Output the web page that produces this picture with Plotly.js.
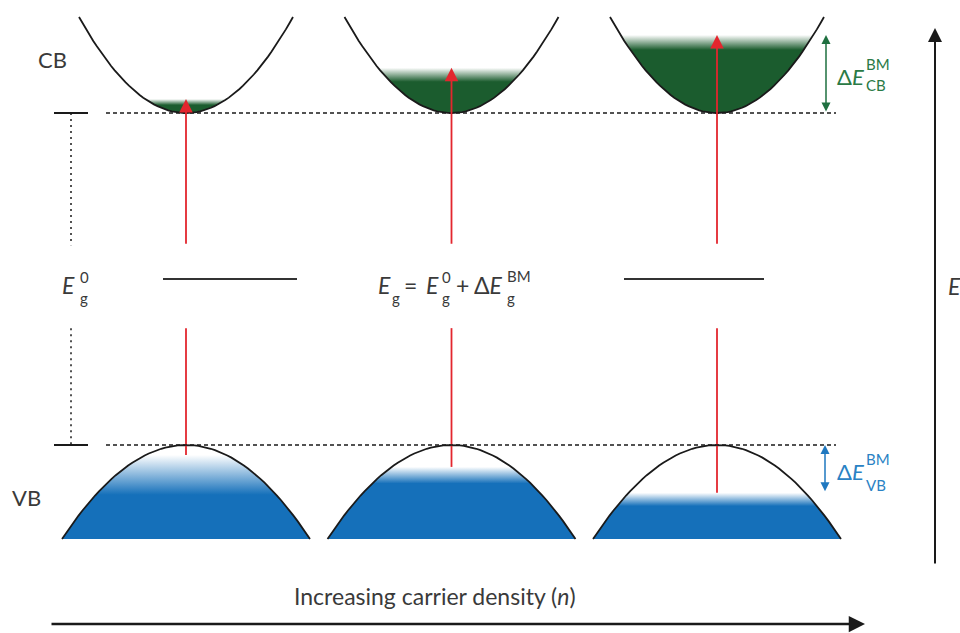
<!DOCTYPE html>
<html><head><meta charset="utf-8">
<script src="https://cdn.plot.ly/plotly-3.0.1.min.js"></script>
<style>html,body{margin:0;padding:0;background:#fff}#chart{width:960px;height:633px}</style>
</head><body><div id="chart"></div>
<script>
// ---------------- data ----------------
const panels = ['low n', 'intermediate n', 'high n'];
const panelPos = [0, 1, 2];
const Eg0 = 1.0;                       // CB minimum (VB maximum = 0)
const cbCurvature = 1.78;              // E = Eg0 + a k^2
const vbCurvature = 1.298;             // E = -b k^2
const cbHalfK = 0.403;
const vbHalfK = 0.467;
const cbFermi = [1.042, 1.136, 1.235]; // CB filling level per panel
const vbFermi = [-0.03, -0.066, -0.144]; // VB emptying level per panel
const cbFade = [0.018, 0.042, 0.045];
const vbFade = [0.12, 0.05, 0.04];
const gapTop = 0.602, gapBottom = 0.352;

// ---------------- geometry helpers ----------------
const W = 960, H = 633;
const xPix0 = 186, xPixPerPanel = 265.5;
const yPix0 = 445, yPixPerE = 332;
const xRange = [-xPix0 / xPixPerPanel, (W - xPix0) / xPixPerPanel];
const yRange = [(yPix0 - H) / yPixPerE, yPix0 / yPixPerE];
const px = v => v / W, py = v => 1 - v / H;
function lin(a, b, n) { const r = []; for (let i = 0; i < n; i++) r.push(a + (b - a) * i / (n - 1)); return r; }

const green = '#1b5c2e', blue = '#1570ba', red = '#e3262e', ink = '#1a1a1a', txt = '#3a3a3a';
const greenTxt = '#2a7a45', blueTxt = '#2a82c4';
const FONT = 'Lato, "Open Sans", sans-serif';

const traces = [], shapes = [], annotations = [];

panelPos.forEach((c, i) => {
  // CB fill
  const kf = Math.sqrt((cbFermi[i] - Eg0) / cbCurvature);
  const kc = lin(-kf, kf, 41);
  traces.push({
    x: kc.map(k => c + k), y: kc.map(k => Eg0 + cbCurvature * k * k),
    mode: 'lines', line: {width: 0}, fill: 'toself', hoverinfo: 'skip',
    fillgradient: {type: 'vertical', colorscale: [[0, '#ffffff'], [1, green]],
      start: cbFermi[i], stop: cbFermi[i] - cbFade[i]}
  });
  // VB fill
  const kv = Math.sqrt(-vbFermi[i] / vbCurvature);
  const left = lin(-vbHalfK, -kv, 25), right = lin(kv, vbHalfK, 25);
  const kvb = left.concat(right);
  traces.push({
    x: kvb.map(k => c + k), y: kvb.map(k => -vbCurvature * k * k),
    mode: 'lines', line: {width: 0}, fill: 'toself', hoverinfo: 'skip',
    fillgradient: {type: 'vertical', colorscale: [[0, '#ffffff'], [1, blue]],
      start: vbFermi[i], stop: vbFermi[i] - vbFade[i]}
  });
});
panelPos.forEach((c, i) => {
  const kc = lin(-cbHalfK, cbHalfK, 61);
  traces.push({x: kc.map(k => c + k), y: kc.map(k => Eg0 + cbCurvature * k * k),
    mode: 'lines', line: {color: ink, width: 1.8}, hoverinfo: 'skip'});
  const kv = lin(-vbHalfK, vbHalfK, 61);
  traces.push({x: kv.map(k => c + k), y: kv.map(k => -vbCurvature * k * k),
    mode: 'lines', line: {color: ink, width: 1.8}, hoverinfo: 'skip'});
  // red transition: lower segment
  shapes.push({type: 'line', xref: 'x', yref: 'y', x0: c, x1: c, y0: vbFermi[i], y1: gapBottom,
    line: {color: red, width: 1.8}});
  // upper segment with arrowhead
  annotations.push({xref: 'x', yref: 'y', axref: 'x', ayref: 'y', x: c, y: cbFermi[i], ax: c, ay: gapTop,
    text: '', showarrow: true, arrowhead: 2, arrowsize: 1.5, arrowwidth: 1.8, arrowcolor: red});
});

// dashed band-edge lines
[Eg0, 0].forEach(e => {
  shapes.push({type: 'line', xref: 'paper', yref: 'y', x0: px(106), x1: px(836), y0: e, y1: e,
    line: {color: ink, width: 1.5, dash: '4px,3px'}});
  shapes.push({type: 'line', xref: 'paper', yref: 'y', x0: px(54), x1: px(88), y0: e, y1: e,
    line: {color: ink, width: 2}});
});
// dotted gap marker
shapes.push({type: 'line', xref: 'paper', yref: 'y', x0: px(71), x1: px(71), y0: Eg0, y1: gapTop,
  line: {color: ink, width: 1.5, dash: '2px,4px'}});
shapes.push({type: 'line', xref: 'paper', yref: 'y', x0: px(71), x1: px(71), y0: gapBottom, y1: 0,
  line: {color: ink, width: 1.5, dash: '2px,4px'}});
// mid-gap lines
shapes.push({type: 'line', xref: 'paper', yref: 'y', x0: px(163), x1: px(297), y0: Eg0 / 2, y1: Eg0 / 2,
  line: {color: '#333', width: 2}});
shapes.push({type: 'line', xref: 'paper', yref: 'y', x0: px(624), x1: px(764), y0: Eg0 / 2, y1: Eg0 / 2,
  line: {color: '#333', width: 2}});

// Burstein-Moss shift arrows
annotations.push({xref: 'paper', yref: 'y', x: px(826), y: cbFermi[2], ax: 0, ay: (cbFermi[2] - Eg0) * yPixPerE,
  text: '', showarrow: true, arrowside: 'end+start', arrowhead: 2, startarrowhead: 2,
  arrowsize: 1.2, startarrowsize: 1.2, arrowwidth: 1.5, arrowcolor: '#1f7040'});
annotations.push({xref: 'paper', yref: 'y', x: px(825), y: 0, ax: 0, ay: -vbFermi[2] * yPixPerE,
  text: '', showarrow: true, arrowside: 'end+start', arrowhead: 2, startarrowhead: 2,
  arrowsize: 1.2, startarrowsize: 1.2, arrowwidth: 1.5, arrowcolor: '#1f78c0'});
// energy axis arrow
annotations.push({xref: 'paper', yref: 'paper', x: px(935), y: py(28), ax: 0, ay: 565 - 28,
  text: '', showarrow: true, arrowhead: 2, arrowsize: 1.4, arrowwidth: 2, arrowcolor: ink});
// carrier density arrow
annotations.push({xref: 'paper', yref: 'paper', x: px(865), y: py(624), ax: 50 - 865, ay: 0,
  text: '', showarrow: true, arrowhead: 2, arrowsize: 1.3, arrowwidth: 2.5, arrowcolor: ink});

// text
function T(text, x, y, size, color, anchor) {
  annotations.push({xref: 'paper', yref: 'paper', x: px(x), y: py(y), text: text, showarrow: false,
    xanchor: anchor || 'left', yanchor: 'middle', borderpad: 0,
    font: {family: FONT, size: size, color: color || txt}});
}
T('CB', 37, 60, 22);
T('VB', 11, 497, 22);
// E_g^0
T('<i>E</i>', 61, 285, 23);
T('0', 79, 277, 15);
T('g', 79, 298, 15);
// E_g = E_g^0 + ΔE_g^BM
T('<i>E</i>', 377, 285, 23);
T('g', 391, 298, 15);
T('=', 403, 285, 23);
T('<i>E</i>', 425, 285, 23);
T('0', 441, 277, 15);
T('g', 441, 298, 15);
T('+', 455, 285, 23);
T('Δ<i>E</i>', 473, 285, 23);
T('BM', 506, 276, 15);
T('g', 506, 298, 15);
// ΔE_CB^BM
T('Δ<i>E</i>', 836, 76, 22, greenTxt);
T('BM', 865, 64, 15, greenTxt);
T('CB', 865, 85, 15, greenTxt);
// ΔE_VB^BM
T('Δ<i>E</i>', 836, 471, 22, blueTxt);
T('BM', 865, 459, 15, blueTxt);
T('VB', 865, 485, 15, blueTxt);
// axis labels
T('<i>E</i>', 947, 286, 23);
T('Increasing carrier density (<i>n</i>)', 435, 596, 23, txt, 'center');

const layout = {
  width: W, height: H, margin: {l: 0, r: 0, t: 0, b: 0},
  paper_bgcolor: '#fff', plot_bgcolor: '#fff', showlegend: false, hovermode: false,
  xaxis: {range: xRange, visible: false, fixedrange: true},
  yaxis: {range: yRange, visible: false, fixedrange: true},
  shapes: shapes, annotations: annotations
};
Plotly.newPlot('chart', traces, layout, {displayModeBar: false, staticPlot: true});
</script></body></html>
